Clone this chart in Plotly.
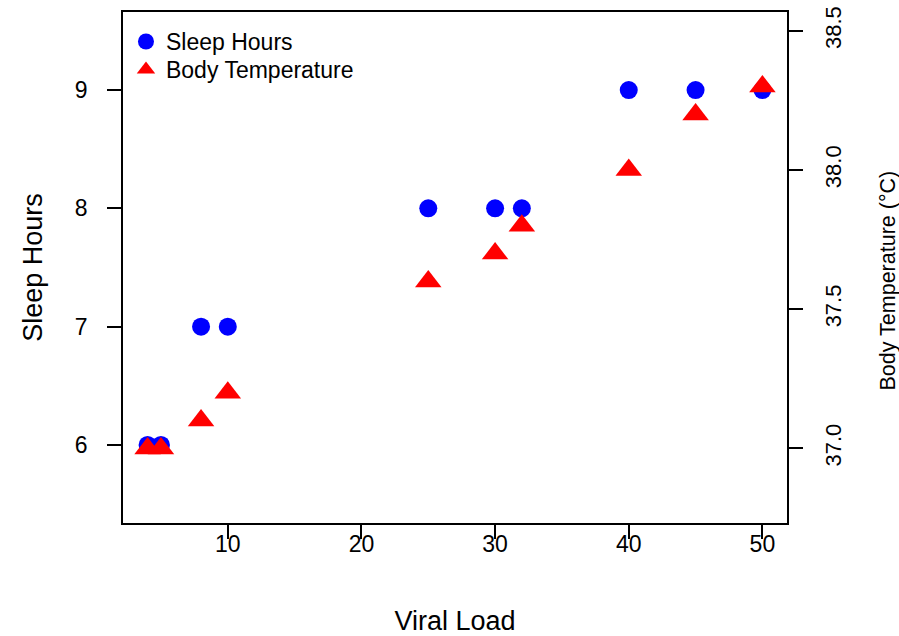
import plotly.graph_objects as go

viral_load = [4, 5, 8, 10, 25, 30, 32, 40, 45, 50]
sleep_hours = [6, 6, 7, 7, 8, 8, 8, 9, 9, 9]
body_temp = [37.0, 37.0, 37.1, 37.2, 37.6, 37.7, 37.8, 38.0, 38.2, 38.3]

x_ticks = [10, 20, 30, 40, 50]
sleep_ticks = [6, 7, 8, 9]
temp_ticks = [37.0, 37.5, 38.0, 38.5]
temp_tick_labels = ["37.0", "37.5", "38.0", "38.5"]

FONT = "Liberation Sans, Arial, Helvetica, sans-serif"

fig = go.Figure()
fig.add_trace(go.Scatter(
    x=viral_load, y=sleep_hours, mode="markers", name="Sleep Hours",
    marker=dict(symbol="circle", size=18, color="#0000FF", line=dict(width=0)),
    yaxis="y", legend="legend",
))
fig.add_trace(go.Scatter(
    x=viral_load, y=body_temp, mode="markers", name="Body Temperature",
    marker=dict(symbol="triangle-up", size=23, color="#FF0000", line=dict(width=0)),
    yaxis="y2", legend="legend2",
))

axis_common = dict(
    showgrid=False, zeroline=False, showline=True, linecolor="black", linewidth=1.5,
    ticks="outside", ticklen=14, tickwidth=1.5, tickcolor="black",
)

legend_common = dict(
    x=0.0045, xanchor="left", yanchor="top",
    bgcolor="rgba(0,0,0,0)", borderwidth=0,
    font=dict(size=23), itemwidth=30,
)

fig.update_layout(
    width=899, height=636,
    margin=dict(l=123, r=112, t=12, b=113, autoexpand=False),
    paper_bgcolor="white", plot_bgcolor="white",
    font=dict(family=FONT, color="black", size=23),
    showlegend=True,
    legend=dict(**legend_common, y=0.9843),
    legend2=dict(**legend_common, y=0.9296),
    xaxis=dict(
        **axis_common, mirror=True,
        range=[2.16, 51.84], tickmode="array", tickvals=x_ticks,
        tickfont=dict(size=23), ticklabelstandoff=-14,
        title=dict(text="Viral Load", font=dict(size=27), standoff=58),
    ),
    yaxis=dict(
        **axis_common, mirror=True,
        range=[5.34, 9.66], tickmode="array", tickvals=sleep_ticks,
        tickangle=0, tickfont=dict(size=23), ticklabelstandoff=15,
        title=dict(text="Sleep Hours", font=dict(size=27), standoff=24),
    ),
    yaxis2=dict(
        **axis_common,
        overlaying="y", side="right", anchor="x",
        range=[36.732, 38.568], tickmode="array", tickvals=temp_ticks,
        ticktext=temp_tick_labels, tickangle=-90, tickfont=dict(size=22),
        ticklabelstandoff=12,
    ),
    annotations=[dict(
        text="Body Temperature (°C)", font=dict(size=21.5),
        xref="paper", yref="paper", x=1, y=0.5, xanchor="center", yanchor="middle",
        xshift=100, yshift=-13, textangle=-90, showarrow=False,
    )],
)

fig.write_html("out.html", post_script="document.body.style.margin='0';",
               config={"displayModeBar": False})
